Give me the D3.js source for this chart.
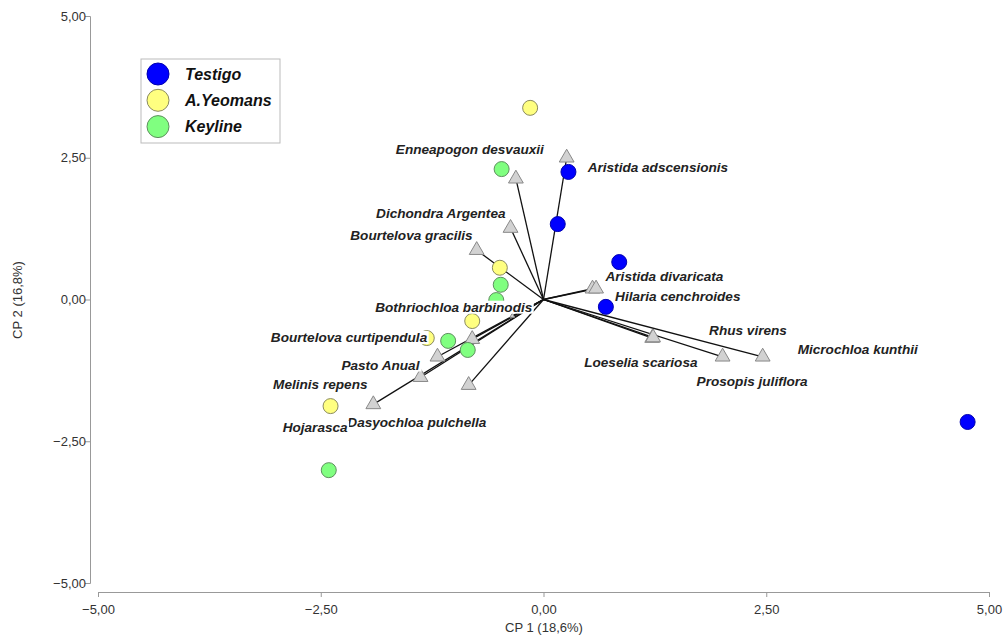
<!DOCTYPE html>
<html>
<head>
<meta charset="utf-8">
<script src="https://cdn.jsdelivr.net/npm/d3@7"></script>
<style>
  body { margin: 0; background: #fff; }
  svg { font-family: "Liberation Sans", Arial, sans-serif; }
  .axis path, .axis line { stroke: #999; }
  .axis text { fill: #333; font-size: 13px; }
  .lbl { font-size: 13.6px; font-weight: bold; font-style: italic; fill: #222; }
</style>
</head>
<body>
<svg id="chart" width="1006" height="639"></svg>
<script>
// axis ticks
var ticks = [-5, -2.5, 0, 2.5, 5];

// sites (CP1, CP2) per treatment
var groups = ['Testigo', 'A.Yeomans', 'Keyline'];
var testigoX = [0.28, 0.16, 0.85, 0.70, 4.76];
var testigoY = [2.25, 1.33, 0.66, -0.13, -2.16];
var yeomansX = [-0.15, -0.49, -0.80, -1.31, -2.39];
var yeomansY = [3.38, 0.56, -0.38, -0.68, -1.88];
var keylineX = [-0.47, -0.48, -0.53, -1.07, -0.85, -2.41];
var keylineY = [2.30, 0.26, -0.01, -0.73, -0.89, -3.01];

// species vectors
var speciesNames = ['Aristida adscensionis', 'Enneapogon desvauxii', 'Dichondra Argentea',
  'Bourtelova gracilis', 'Aristida divaricata', 'Hilaria cenchroides', 'Loeselia scariosa',
  'Rhus virens', 'Prosopis juliflora', 'Microchloa kunthii', 'Bothriochloa barbinodis',
  'Bourtelova curtipendula', 'Pasto Anual', 'Melinis repens', 'Dasyochloa pulchella', 'Hojarasca'];
var speciesX = [0.26, -0.31, -0.37, -0.75, 0.55, 0.59, 1.22, 1.23, 2.01, 2.46, -0.35, -0.80, -1.19, -1.38, -1.91, -0.84];
var speciesY = [2.50, 2.13, 1.26, 0.87, 0.19, 0.19, -0.68, -0.67, -1.01, -1.01, -0.29, -0.70, -1.01, -1.37, -1.85, -1.51];

// label placement (anchor, dx, dy from the triangle)
var labelLayout = {
  'Aristida adscensionis': ['start', 21, 9],
  'Enneapogon desvauxii': ['end', 28, -29],
  'Dichondra Argentea': ['end', -5, -15],
  'Bourtelova gracilis': ['end', -4, -15],
  'Aristida divaricata': ['start', 13, -12],
  'Hilaria cenchroides': ['start', 19, 8],
  'Loeselia scariosa': ['start', -68, 24],
  'Rhus virens': ['start', 56, -7],
  'Prosopis juliflora': ['start', -26, 24],
  'Microchloa kunthii': ['start', 35, -8],
  'Bothriochloa barbinodis': ['end', 20, -9],
  'Bourtelova curtipendula': ['end', -45, -2],
  'Pasto Anual': ['end', -18, 8],
  'Melinis repens': ['end', -53, 7],
  'Dasyochloa pulchella': ['start', -26, 18],
  'Hojarasca': ['end', -121, 42]
};

var fills = { 'Testigo': '#0000ff', 'A.Yeomans': '#ffff80', 'Keyline': '#80ff80' };
var strokes = { 'Testigo': '#0000b0', 'A.Yeomans': '#8a8a60', 'Keyline': '#5f8f5f' };

var svg = d3.select('#chart');
var x = d3.scaleLinear().domain([-5, 5]).range([98, 989]);
var y = d3.scaleLinear().domain([-5, 5]).range([583, 16]);
var fmt = function (d) { return d3.format('.2f')(d).replace('.', ','); };

svg.append('g').attr('class', 'axis')
  .attr('transform', 'translate(0,592)')
  .call(d3.axisBottom(x).tickValues(ticks).tickFormat(fmt).tickSizeOuter(0).tickSize(5))
  .selectAll('text').attr('dy', '1.05em');

svg.append('g').attr('class', 'axis')
  .attr('transform', 'translate(90,0)')
  .call(d3.axisLeft(y).tickValues(ticks).tickFormat(fmt).tickSizeOuter(0).tickSize(5))
  .selectAll('text').attr('x', -4);

svg.append('text').attr('x', 544).attr('y', 632).attr('text-anchor', 'middle')
  .style('font-size', '13px').style('fill', '#333').text('CP 1 (18,6%)');
svg.append('text').attr('transform', 'translate(22,300) rotate(-90)').attr('text-anchor', 'middle')
  .style('font-size', '13px').style('fill', '#333').text('CP 2 (16,8%)');

var species = speciesNames.map(function (n, i) { return { name: n, x: speciesX[i], y: speciesY[i] }; });

// vectors
svg.append('g').selectAll('line').data(species).enter().append('line')
  .attr('x1', x(0)).attr('y1', y(0))
  .attr('x2', function (d) { return x(d.x); })
  .attr('y2', function (d) { return y(d.y); })
  .attr('stroke', '#111').attr('stroke-width', 1.3);

svg.append('g').selectAll('path').data(species).enter().append('path')
  .attr('d', function (d) {
    return d3.symbol().type(d3.symbolTriangle).size(d.name === 'Bothriochloa barbinodis' ? 10 : 95)();
  })
  .attr('transform', function (d) { return 'translate(' + x(d.x) + ',' + y(d.y) + ')'; })
  .attr('fill', '#d2d2d2').attr('stroke', '#888').attr('stroke-width', 1);

// site points
var sites = [];
testigoX.forEach(function (v, i) { sites.push({ g: 'Testigo', x: v, y: testigoY[i] }); });
yeomansX.forEach(function (v, i) { sites.push({ g: 'A.Yeomans', x: v, y: yeomansY[i] }); });
keylineX.forEach(function (v, i) { sites.push({ g: 'Keyline', x: v, y: keylineY[i] }); });

svg.append('g').selectAll('circle').data(sites).enter().append('circle')
  .attr('cx', function (d) { return x(d.x); })
  .attr('cy', function (d) { return y(d.y); })
  .attr('r', 7.5)
  .style('fill', function (d) { return fills[d.g]; })
  .style('stroke', function (d) { return strokes[d.g]; });

// species labels on white boxes
var labels = svg.append('g').selectAll('g').data(species).enter().append('g');
labels.each(function (d) {
  var lay = labelLayout[d.name];
  var g = d3.select(this);
  var t = g.append('text').attr('class', 'lbl')
    .attr('x', x(d.x) + lay[1]).attr('y', y(d.y) + lay[2])
    .attr('dy', '0.35em').attr('text-anchor', lay[0]).text(d.name);
  var b = t.node().getBBox();
  g.insert('rect', 'text').attr('x', b.x - 1).attr('y', b.y + 1)
    .attr('width', b.width + 2).attr('height', b.height - 2).attr('fill', '#fff');
});

// legend
var legend = svg.append('g');
legend.append('rect').attr('x', 141).attr('y', 59).attr('width', 139).attr('height', 84)
  .attr('fill', '#fff').attr('stroke', '#bbb');
var items = legend.selectAll('g.item').data(groups).enter().append('g').attr('class', 'item')
  .attr('transform', function (d, i) { return 'translate(158,' + (74 + i * 26.3) + ')'; });
items.append('circle').attr('r', 11)
  .style('fill', function (d) { return fills[d]; })
  .style('stroke', function (d) { return strokes[d]; });
items.append('text').attr('x', 27).attr('dy', '0.35em')
  .style('font-size', '16px').style('font-weight', 'bold').style('font-style', 'italic')
  .style('fill', '#111').text(function (d) { return d; });
</script>
</body>
</html>
